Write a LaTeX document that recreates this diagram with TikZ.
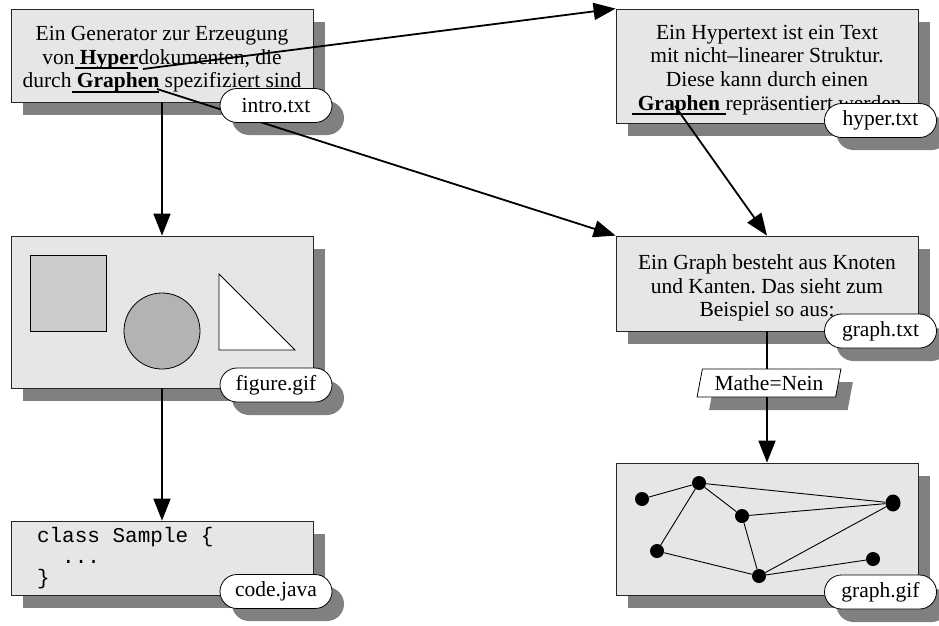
\documentclass[tikz,border=0pt]{standalone}
\usepackage{fontspec}
\setmainfont{Liberation Serif}[BoldFont={Liberation Serif Bold}]
\newfontfamily\codefont{Liberation Mono}
\usetikzlibrary{shapes.misc,shapes.geometric,shadows,arrows.meta}
\frenchspacing

\definecolor{cardfill}{HTML}{E6E6E6}
\definecolor{shadowgray}{HTML}{808080}
\definecolor{squarefill}{HTML}{CCCCCC}
\definecolor{discfill}{HTML}{B3B3B3}

\newcommand\cardfont{\fontsize{21.5}{23.7}\selectfont}
\newcommand\listingfont{\codefont\fontsize{21}{21}\selectfont}
\newcommand\mspace{\hspace*{0.6em}}
% thick underline marking a hyperlink anchor
\newsavebox\linkbox
\newcommand\linkul[1]{\sbox\linkbox{#1}\rlap{\rule[-5pt]{\wd\linkbox}{1.8pt}}\usebox\linkbox}

\tikzset{
  cardbox/.style={draw=black!85, line width=0.8pt, fill=cardfill,
    minimum width=302pt, inner sep=0pt,
    drop shadow={shadow xshift=12pt, shadow yshift=-13pt, fill=shadowgray, opacity=1}},
  cardtext/.style={align=center, inner sep=0pt, font=\cardfont},
  filetag/.style={rounded rectangle, draw=black, line width=0.8pt, fill=white,
    minimum width=112pt, minimum height=34pt, inner sep=0pt, font=\cardfont},
  tagshadow/.style={rounded rectangle, fill=shadowgray,
    minimum width=112pt, minimum height=34pt, inner sep=0pt},
  linkarrow/.style={line width=1.8pt, -{Triangle[length=22pt,width=17pt]}},
  netline/.style={line width=0.9pt},
  netdot/.style={circle, fill=black, minimum size=14pt, inner sep=0pt},
}

\begin{document}
\begin{tikzpicture}[x=1pt,y=-1pt]
\useasboundingbox (0,0) rectangle (939,626);

% document cards
\node[cardbox, minimum height=93pt] (intro) at (162,55.5) {};
\node[cardbox, minimum height=114pt] (hyper) at (767,66) {};
\node[cardbox, minimum height=152pt] (fig) at (162,312) {};
\node[cardbox, minimum height=95pt] (gtxt) at (767,283.5) {};
\node[cardbox, minimum height=74pt, text width=250pt, inner xsep=26pt,
  align=left, font=\listingfont] (code) at (162,558)
  {class\mspace Sample\mspace\{\\ \mspace\mspace...\\ \}};
\node[cardbox, minimum height=132pt] (ggif) at (767,529) {};

% card texts
\node[cardtext] (introtext) at (162,59.5)
  {Ein Generator zur Erzeugung\\
   von\linkul{ \textbf{Hyper}}dokumenten, die\\
   durch\linkul{ \textbf{Graphen}} spezifiziert sind};
\node[cardtext] (hypertext) at (767,70)
  {Ein Hypertext ist ein Text\\
   mit nicht–linearer Struktur.\\
   Diese kann durch einen\\
   \linkul{\ \textbf{Graphen}\ }repräsentiert werden};
\node[cardtext] (gtxttext) at (767,288)
  {Ein Graph besteht aus Knoten\\
   und Kanten. Das sieht zum\\
   Beispiel so aus:};

% condition between graph.txt and graph.gif
\node[trapezium, trapezium left angle=74, trapezium right angle=106,
  trapezium stretches=true, minimum width=144pt, minimum height=28pt,
  inner sep=0pt, draw=black, line width=0.8pt, fill=white, font=\cardfont,
  drop shadow={shadow xshift=12pt, shadow yshift=-13pt, fill=shadowgray, opacity=1}]
  (mathe) at (769,383) {Mathe=Nein};

% shadows of the file tags
\node[tagshadow] at (288,118) {};
\node[tagshadow] at (892.5,133) {};
\node[tagshadow] at (892.5,344) {};
\node[tagshadow] at (288,398) {};
\node[tagshadow] at (288,604) {};
\node[tagshadow] at (892.5,605) {};

% picture inside figure.gif
\draw[line width=0.8pt, fill=squarefill] (30,255) rectangle (106,331);
\draw[line width=0.8pt, fill=discfill] (162,331) circle[radius=38];
\draw[line width=0.8pt, fill=white] (219,274) -- (219,350) -- (295,350) -- cycle;

% sample graph inside graph.gif
\node[netdot] (n1) at (642,499) {};
\node[netdot] (n2) at (699,483) {};
\node[netdot] (n3) at (742,516) {};
\node[netdot, ellipse, minimum width=15pt, minimum height=17pt] (n4) at (893,503) {};
\node[netdot] (n5) at (657,551) {};
\node[netdot] (n6) at (759,576) {};
\node[netdot] (n7) at (873,559) {};
\draw[netline] (n1) -- (n2) (n2) -- (n3) (n2) -- (n4) (n3) -- (n4)
  (n2) -- (n5) (n5) -- (n6) (n3) -- (n6) (n6) -- (n4) (n6) -- (n7);

% link anchors
\coordinate (aHyper) at (143,69);
\coordinate (aGraphA) at (157,89);
\coordinate (aGraphB) at (675,106);

% connectors
\draw[linkarrow] (aHyper) -- (hyper.north west);
\draw[linkarrow] (aGraphA) -- (gtxt.north west);
\draw[linkarrow] (aGraphB) -- (gtxt.north);
\draw[linkarrow] (intro.south) -- (fig.north);
\draw[linkarrow] (fig.south) -- (code.north);
\draw[line width=1.8pt] (gtxt.south) -- (gtxt.south |- mathe.north);
\draw[linkarrow] (mathe.south -| ggif.north) -- (ggif.north);

% file tags
\node[filetag] (tIntro) at (276,105.5) {intro.txt};
\node[filetag] (tHyper) at (880.5,120.5) {hyper.txt};
\node[filetag] (tGtxt) at (880.5,331) {graph.txt};
\node[filetag] (tFig) at (276,385) {figure.gif};
\node[filetag] (tCode) at (276,591.5) {code.java};
\node[filetag] (tGgif) at (880.5,592) {graph.gif};
\end{tikzpicture}
\end{document}
